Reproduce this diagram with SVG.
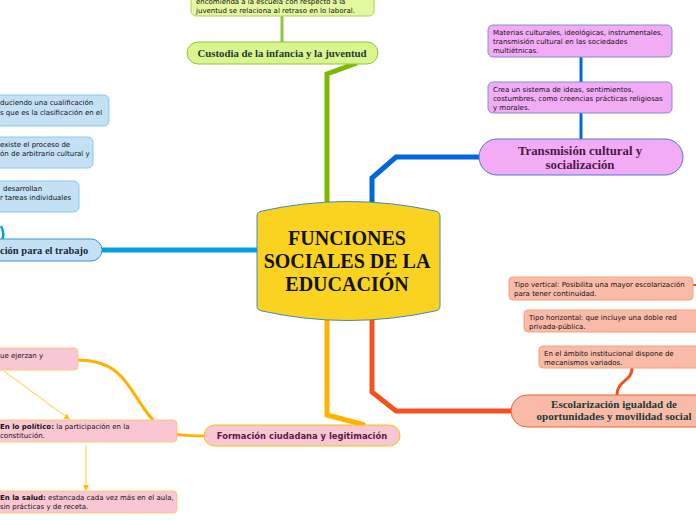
<svg xmlns="http://www.w3.org/2000/svg" width="696" height="520" viewBox="0 0 696 520">
<defs>
<style>
.sm{font-family:"DejaVu Sans",Verdana,sans-serif;font-size:7px;fill:#111}
.smb{font-weight:bold}
.ser{font-family:"Liberation Serif","Times New Roman",serif;font-weight:bold}
.conn{fill:none;stroke-linejoin:miter}
</style>
<marker id="ay" markerWidth="6" markerHeight="6" refX="5" refY="3" orient="auto" markerUnits="userSpaceOnUse">
<path d="M0,0 L6,3 L0,6 Z" fill="#FFC000"/>
</marker>
</defs>
<rect width="696" height="520" fill="#fff"/>

<g id="connectors" class="conn">
<path d="M327,205 L327,74 L357,63" stroke="#7DB800" stroke-width="5"/>
<path d="M282,16 L282,42" stroke="#8CC63F" stroke-width="3"/>
<path d="M372,206 L372,178 L396,157 L481,157" stroke="#0066DD" stroke-width="5"/>
<path d="M581,57 L581,82 M581,113 L581,139" stroke="#0066DD" stroke-width="3"/>
<path d="M372,316 L372,392 L396,411 L512,411" stroke="#F4511E" stroke-width="5"/>
<path d="M632,368 C632,382 617,380 617,395" stroke="#F4511E" stroke-width="3"/>
<path d="M693,285 L696,285" stroke="#F4511E" stroke-width="2"/>
<path d="M327,316 L327,415 L365,425" stroke="#FFB300" stroke-width="5"/>
<path d="M258,250 L100,250" stroke="#00A0E0" stroke-width="5"/>
<path d="M1,226 C4,232 4,236 2,240" stroke="#00A0E0" stroke-width="2.5"/>
<path d="M78,360 C130,360 130,400 158,425 C172,436 185,436 205,436" stroke="#FFB300" stroke-width="3"/>
<path d="M190,436 L205,436" stroke="#FFB300" stroke-width="2"/>
<path d="M4,371 L69,419" stroke="#FFC000" stroke-width="0.8" marker-end="url(#ay)"/>
<path d="M86,445 L86,490" stroke="#FFC000" stroke-width="0.8" marker-end="url(#ay)"/>
</g>

<g id="central">
<path d="M257,216 Q257,212 262,211 Q348,192 435,211 Q440,212 440,216 L440,306 Q440,310 435,311 Q348,330 262,311 Q257,310 257,306 Z" fill="#F9D31F" stroke="#3B8BC4" stroke-width="1"/>
<text class="ser" font-size="20" text-anchor="middle" fill="#111"><tspan x="347" y="245">FUNCIONES</tspan><tspan x="347" y="268">SOCIALES DE LA</tspan><tspan x="347" y="291">EDUCACIÓN</tspan></text>
</g>

<g id="custodia-nota">
<rect x="191" y="-10" width="183" height="26" rx="5" fill="#E4F8A0" stroke="#A8D45A"/>
<text class="sm"><tspan x="196" y="4">encomienda a la escuela con respecto a la</tspan><tspan x="196" y="13">juventud se relaciona al retraso en lo laboral.</tspan></text>
</g>
<g id="custodia">
<rect x="187" y="42" width="191" height="22" rx="11" fill="#D9F58C" stroke="#8DC63F"/>
<text class="ser" font-size="10.8" x="282" y="56.5" text-anchor="middle" fill="#1E3C3C">Custodia de la infancia y la juventud</text>
</g>

<g id="trans-1">
<rect x="488" y="25" width="184" height="32" rx="5" fill="#F2ACF5" stroke="#7A8FE0"/>
<text class="sm"><tspan x="493" y="35">Materias culturales, ideológicas, instrumentales,</tspan><tspan x="493" y="44">transmisión cultural en las sociedades</tspan><tspan x="493" y="53">multiétnicas.</tspan></text>
</g>
<g id="trans-2">
<rect x="488" y="82" width="184" height="31" rx="5" fill="#F2ACF5" stroke="#7A8FE0"/>
<text class="sm"><tspan x="493" y="92">Crea un sistema de ideas, sentimientos,</tspan><tspan x="493" y="101">costumbres, como creencias prácticas religiosas</tspan><tspan x="493" y="110">y morales.</tspan></text>
</g>
<g id="transmision">
<rect x="479" y="139" width="204" height="36" rx="18" fill="#F2ACF5" stroke="#5577CC"/>
<text class="ser" font-size="12.8" text-anchor="middle" fill="#4A1A4A"><tspan x="580" y="154.5">Transmisión cultural y</tspan><tspan x="580" y="168.5">socialización</tspan></text>
</g>

<g id="esc-1">
<rect x="509" y="277" width="184" height="23" rx="4" fill="#F9BBA8" stroke="#F5A080"/>
<text class="sm"><tspan x="514" y="287">Tipo vertical: Posibilita una mayor escolarización</tspan><tspan x="514" y="296">para tener continuidad.</tspan></text>
</g>
<g id="esc-2">
<rect x="524" y="310" width="180" height="22" rx="4" fill="#F9BBA8" stroke="#F5A080"/>
<text class="sm"><tspan x="529" y="320">Tipo horizontal: que incluye una doble red</tspan><tspan x="529" y="329">privada-pública.</tspan></text>
</g>
<g id="esc-3">
<rect x="539" y="346" width="165" height="22" rx="4" fill="#F9BBA8" stroke="#F5A080"/>
<text class="sm"><tspan x="544" y="356">En el ámbito institucional dispone de</tspan><tspan x="544" y="365">mecanismos variados.</tspan></text>
</g>
<g id="escolarizacion">
<rect x="511" y="395" width="200" height="32" rx="16" fill="#F9BBA8" stroke="#F06030"/>
<text class="ser" font-size="11" text-anchor="middle" fill="#1A3A3A"><tspan x="614" y="408">Escolarización igualdad de</tspan><tspan x="614" y="420">oportunidades y movilidad social</tspan></text>
</g>

<g id="formacion">
<rect x="204" y="425" width="196" height="21" rx="10.5" fill="#F9C6D4" stroke="#FFC000"/>
<text x="302" y="439" text-anchor="middle" font-family="DejaVu Sans,Verdana,sans-serif" font-size="8.4" font-weight="bold" fill="#5A1A4A">Formación ciudadana y legitimación</text>
</g>
<g id="form-1">
<rect x="-10" y="348" width="88" height="22" rx="4" fill="#F9C6D4" stroke="#FFC875"/>
<text class="sm" x="0" y="358">ue ejerzan y</text>
</g>
<g id="form-2">
<rect x="-10" y="420" width="187" height="22" rx="4" fill="#F9C6D4" stroke="#FFC875"/>
<text class="sm"><tspan x="0" y="429"><tspan class="smb">En lo político:</tspan> la participación en la</tspan><tspan x="0" y="438">constitución.</tspan></text>
</g>
<g id="form-3">
<rect x="-10" y="491" width="187" height="22" rx="4" fill="#F9C6D4" stroke="#FFC875"/>
<text class="sm"><tspan x="0" y="500"><tspan class="smb">En la salud:</tspan> estancada cada vez más en el aula,</tspan><tspan x="0" y="509">sin prácticas y de receta.</tspan></text>
</g>

<g id="trab-1">
<rect x="-10" y="95" width="119" height="31" rx="5" fill="#C4E0F5" stroke="#8CC8EE"/>
<text class="sm"><tspan x="0" y="105">duciendo una cualificación</tspan><tspan x="0" y="115">s que es la clasificación en el</tspan></text>
</g>
<g id="trab-2">
<rect x="-10" y="137" width="103" height="31" rx="5" fill="#C4E0F5" stroke="#8CC8EE"/>
<text class="sm"><tspan x="0" y="147">existe el proceso de</tspan><tspan x="0" y="156">ón de arbitrario cultural y</tspan></text>
</g>
<g id="trab-3">
<rect x="-10" y="181" width="89" height="31" rx="5" fill="#C4E0F5" stroke="#8CC8EE"/>
<text class="sm"><tspan x="3" y="191">desarrollan</tspan><tspan x="0" y="200">r tareas individuales</tspan></text>
</g>
<g id="trabajo">
<rect x="-30" y="239" width="132" height="22" rx="11" fill="#C4E0F5" stroke="#3399DD"/>
<text class="ser" font-size="10.5" x="0" y="253.5" fill="#1A2A3A">ción para el trabajo</text>
</g>
</svg>
